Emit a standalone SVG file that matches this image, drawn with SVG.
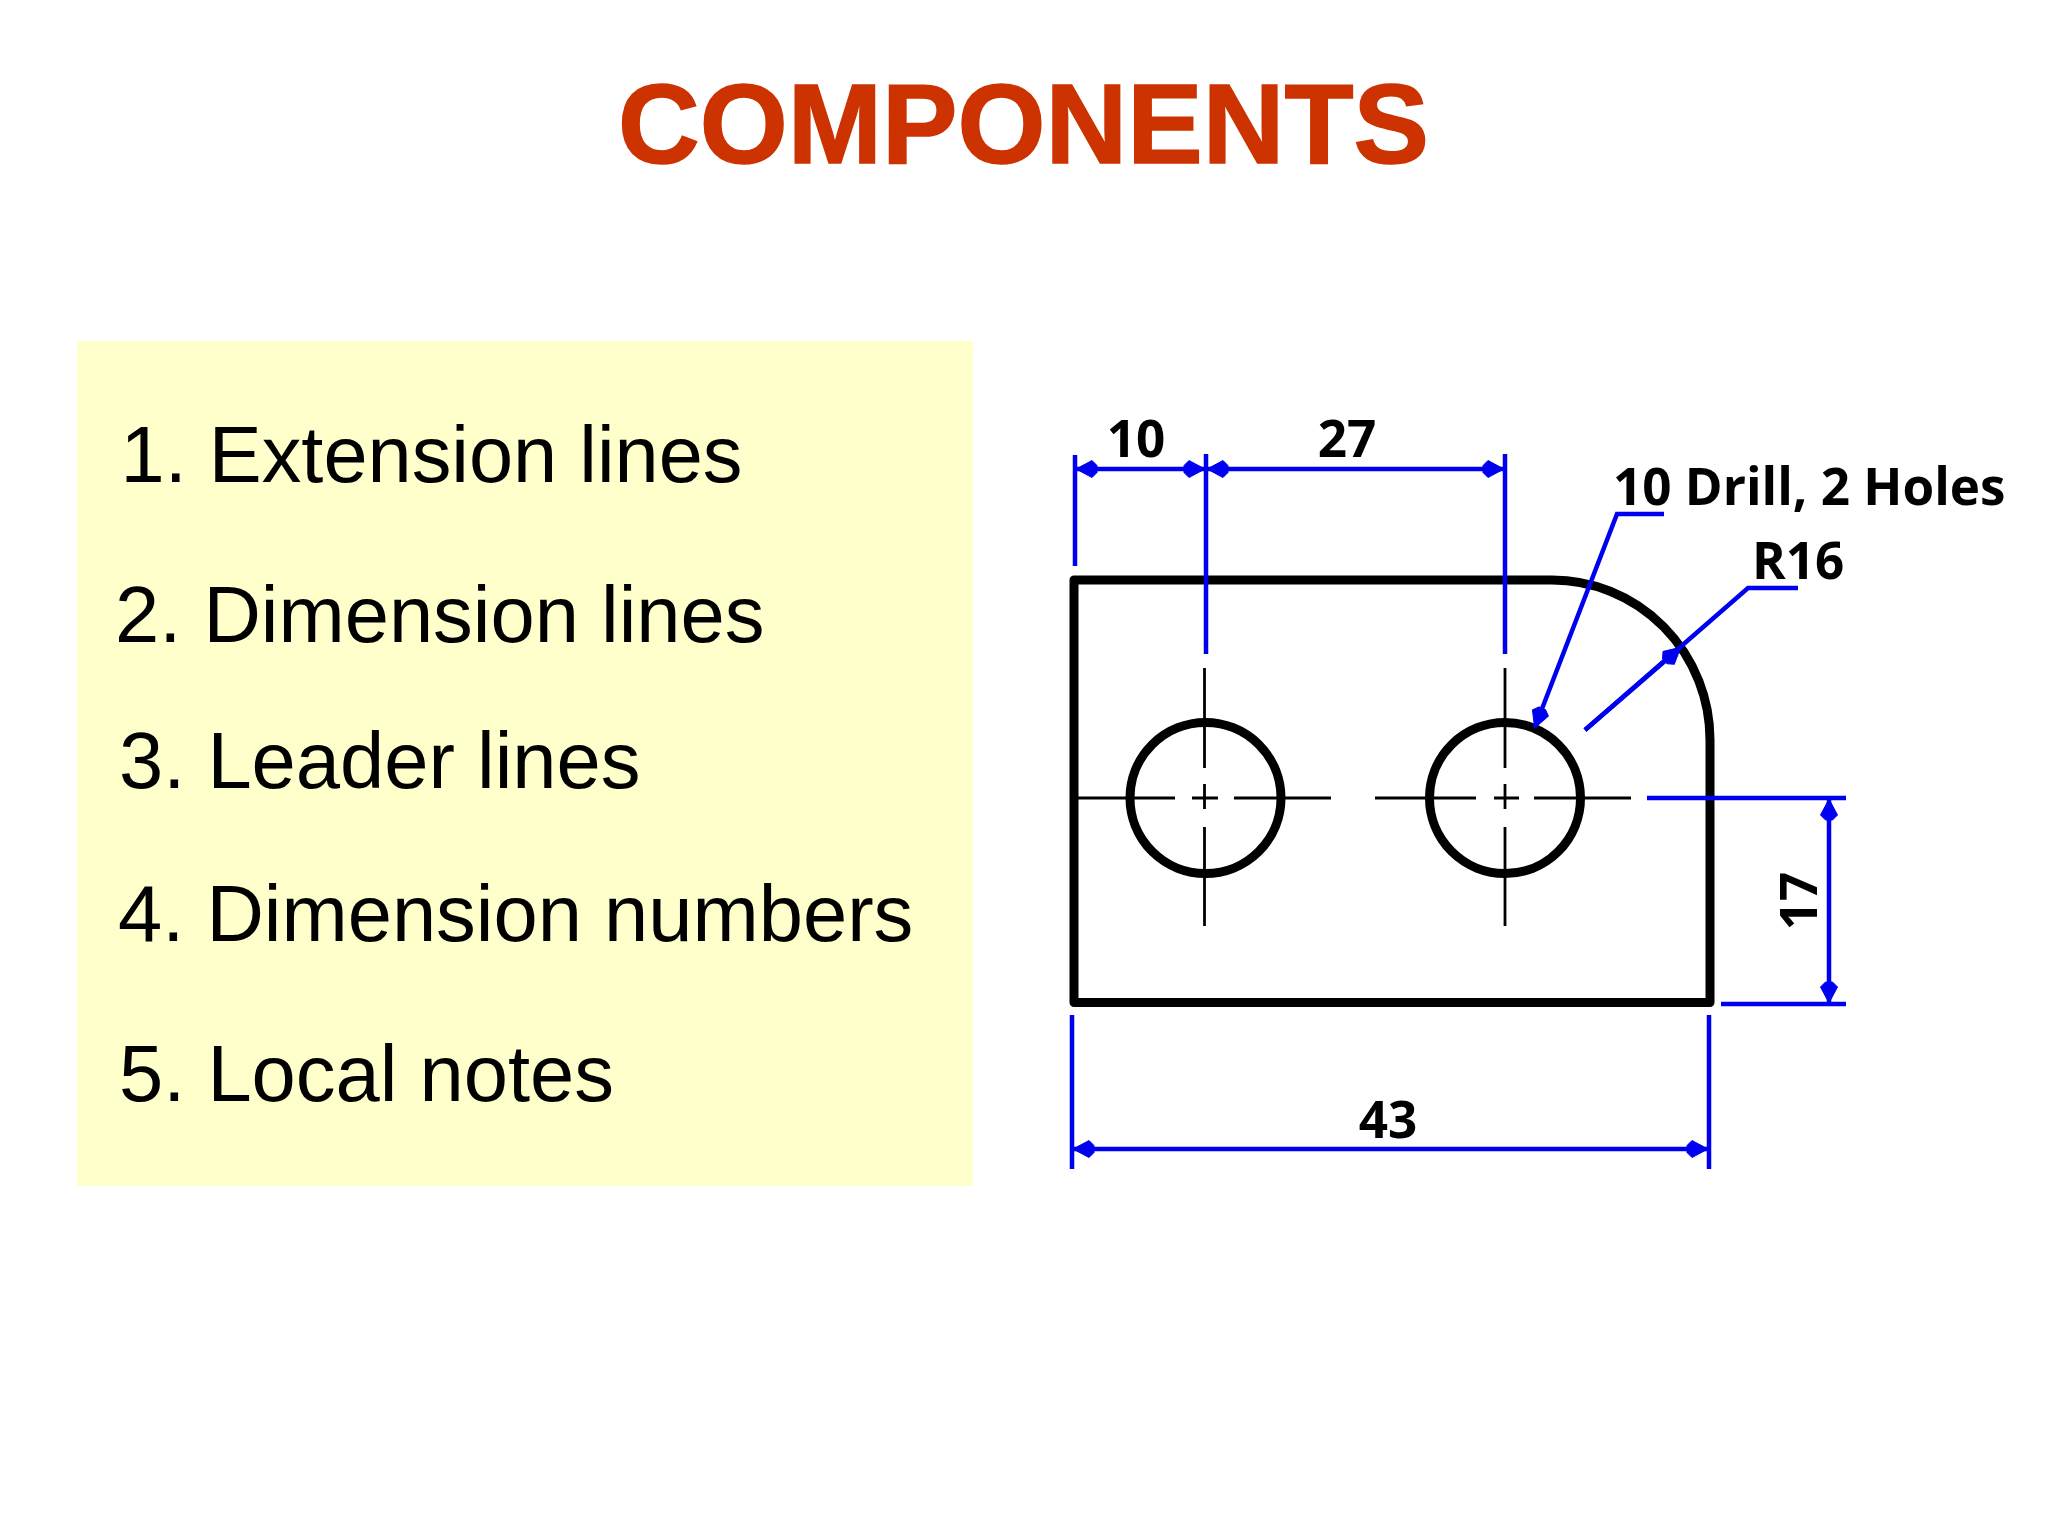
<svg xmlns="http://www.w3.org/2000/svg" width="2048" height="1536" viewBox="0 0 2048 1536">
<style>
.title{font:bold 114px "Liberation Sans",Arial,sans-serif;fill:#cc3300;stroke:#cc3300;stroke-width:1.6}
.item{font:79.5px "Liberation Sans",Arial,sans-serif;fill:#000}
.dim{font:bold 51.2px "Open Sans",sans-serif;fill:#000}
.obj{fill:none;stroke:#000;stroke-width:9;stroke-linejoin:round;stroke-linecap:round}
.ctr{fill:none;stroke:#000;stroke-width:2.8}
.blue{fill:none;stroke:#0000f0;stroke-width:4.5}
.arr{fill:none;stroke:#0000f0;stroke-width:4.5;marker-end:url(#h)}
.arr2{fill:none;stroke:#0000f0;stroke-width:4.5;marker-start:url(#h);marker-end:url(#h)}
</style>
<defs>
<marker id="h" markerUnits="userSpaceOnUse" markerWidth="28" markerHeight="28" refX="23" refY="14" orient="auto-start-reverse"><path d="M24,14 L8,5.5 L3,10.5 L3,17.5 L8,22.5 Z" fill="#0000f0" stroke="#0000f0" stroke-width="1" stroke-linejoin="round"/></marker>
</defs>
<rect width="2048" height="1536" fill="#fff"/>
<text class="title" x="618" y="163" textLength="811" lengthAdjust="spacingAndGlyphs">COMPONENTS</text>
<g id="panel">
<rect x="77" y="341" width="896" height="845" fill="#ffffcc"/>
<text class="item" x="120.5" y="482" textLength="622" lengthAdjust="spacingAndGlyphs">1. Extension lines</text>
<text class="item" x="115" y="642">2. Dimension lines</text>
<text class="item" x="119" y="788">3. Leader lines</text>
<text class="item" x="118" y="941">4. Dimension numbers</text>
<text class="item" x="119" y="1100.5">5. Local notes</text>
</g>
<g id="part">
<path class="obj" d="M1074,580H1552A158,160 0 0 1 1710,740V1002.5H1074Z"/>
<circle class="obj" cx="1205.5" cy="798" r="75.5"/>
<circle class="obj" cx="1505" cy="798" r="75.5"/>
</g>
<g id="centerlines">
<path class="ctr" d="M1078,798H1175M1192,798H1218M1234,798H1331M1204.5,668V768M1204.5,784V809M1204.5,827V926"/>
<path class="ctr" d="M1375,798H1476M1494,798H1519M1534,798H1631M1505,668V768M1505,784V809M1505,827V926"/>
</g>
<g id="connectors">
<path class="blue" d="M1075,455V566M1206,454V654M1505,454V654M1647,798H1846M1721,1004H1846M1072,1015V1169M1709,1015V1169"/>
<path class="arr2" d="M1077,469H1204"/>
<path class="arr2" d="M1208,469H1503"/>
<path class="arr2" d="M1829,800V1002"/>
<path class="arr2" d="M1074,1149H1707"/>
<path class="arr" d="M1664,514H1617L1535,727"/>
<path class="blue" d="M1798,588H1748L1585,730"/>
<path class="arr" d="M1585,730L1680,648"/>
</g>
<g id="labels">
<text class="dim" x="1136" y="457" text-anchor="middle">10</text>
<text class="dim" x="1347" y="457" text-anchor="middle">27</text>
<text class="dim" x="1388" y="1138" text-anchor="middle">43</text>
<text class="dim" transform="translate(1817,901) rotate(-90)" text-anchor="middle">17</text>
<text class="dim" x="1613" y="505">10 Drill, 2 Holes</text>
<text class="dim" x="1752" y="579">R16</text>
</g>
</svg>
